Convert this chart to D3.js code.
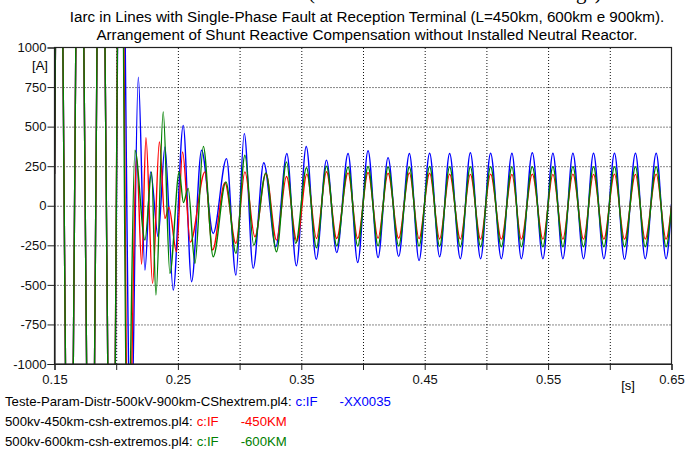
<!DOCTYPE html>
<html>
<head>
<meta charset="utf-8">
<script src="https://cdn.jsdelivr.net/npm/d3@7"></script>
<style>
  body { margin: 0; background: #fff; }
  text { font-family: "Liberation Sans", Arial, sans-serif; }
</style>
</head>
<body>
<script>
// peaks / troughs, time in s, current in A
let tBlue = [0.1500,0.1536,0.1621,0.1704,0.1794,0.1875,0.1966,0.2038,0.2119,0.2179,0.2233,0.2279,0.2340,0.2395,0.2462,0.2543,
    0.2611,0.2692,0.2786,0.2894,0.2970,0.3038,0.3110,0.3196,0.3294,0.3383,0.3460,0.3540,0.3621,0.3704,0.3787,0.3879,
    0.3957,0.4041,0.4122,0.4203,0.4289,0.4376,0.4454,0.4540,0.4621,0.4702,0.4789,0.4870,0.4953,0.5034,0.5121,0.5207,
    0.5283,0.5372,0.5458,0.5539,0.5620,0.5701,0.5787,0.5868,0.5952,0.6038,0.6119,0.6208,0.6287,0.6376,0.6456,0.6500]
let iBlue = [200,2800,-2800,2800,-2800,2800,-2800,2800,-1600,813,-406,214,-196,372,-533,508,
    -480,351,-175,298,-438,456,-396,272,-259,330,-380,374,-338,288,-296,330,
    -359,348,-328,304,-320,330,-346,332,-322,330,-335,335,-335,332,-335,332,
    -335,335,-335,332,-335,332,-335,332,-335,332,-338,332,-335,332,-335,10]

let tRed = [0.1500,0.1536,0.1621,0.1704,0.1794,0.1875,0.1966,0.2036,0.2099,0.2166,0.2206,0.2241,0.2295,0.2350,0.2395,0.2427,
    0.2489,0.2538,0.2601,0.2719,0.2781,0.2881,0.2970,0.3043,0.3124,0.3213,0.3299,0.3380,0.3464,0.3545,0.3623,0.3704,
    0.3787,0.3879,0.3957,0.4041,0.4122,0.4203,0.4289,0.4376,0.4454,0.4540,0.4621,0.4702,0.4789,0.4870,0.4953,0.5034,
    0.5121,0.5207,0.5283,0.5372,0.5458,0.5539,0.5620,0.5701,0.5787,0.5868,0.5952,0.6038,0.6119,0.6208,0.6287,0.6376,
    0.6456,0.6500]
let iRed = [200,2800,-2800,2800,-2800,2800,-2800,2800,-1800,300,-370,430,-490,403,-80,-10,
    -291,340,-230,214,-280,145,-238,214,-196,204,-217,185,-225,200,-207,215,
    -207,208,-207,210,-205,205,-205,208,-208,205,-210,200,-211,198,-211,200,
    -211,198,-211,200,-211,198,-211,200,-211,198,-211,200,-211,198,-211,200,
    -211,0]

let tGreen = [0.1500,0.1536,0.1621,0.1704,0.1794,0.1875,0.1966,0.2036,0.2091,0.2152,0.2233,0.2287,0.2322,0.2381,0.2435,0.2511,
    0.2545,0.2583,0.2638,0.2706,0.2786,0.2889,0.2970,0.3043,0.3115,0.3213,0.3299,0.3380,0.3455,0.3542,0.3623,0.3704,
    0.3787,0.3879,0.3957,0.4041,0.4122,0.4203,0.4289,0.4376,0.4454,0.4540,0.4621,0.4702,0.4789,0.4870,0.4953,0.5034,
    0.5121,0.5207,0.5283,0.5372,0.5458,0.5539,0.5620,0.5701,0.5787,0.5868,0.5952,0.6038,0.6119,0.6208,0.6287,0.6376,
    0.6456,0.6500]
let iGreen = [200,2800,-2800,2800,-2800,2800,-2800,2800,-1800,351,-217,214,-564,593,-427,214,
    20,110,-364,375,-322,151,-301,319,-249,208,-291,277,-238,240,-265,250,
    -253,245,-255,248,-253,245,-255,245,-255,248,-257,246,-259,246,-259,246,
    -259,246,-259,246,-259,246,-259,246,-259,246,-259,246,-259,246,-259,246,
    -259,0]

let xTicks = [0.15,0.2,0.25,0.3,0.35,0.4,0.45,0.5,0.55,0.6,0.65]
let xTickLabels = ['0.15','','0.25','','0.35','','0.45','','0.55','','0.65']
let yTicks = [1000,750,500,250,0,-250,-500,-750,-1000]
let yTickLabels = ['1000','750','500','250','0','-250','-500','-750','-1000']

let titles = ['Iarc in Lines with Single-Phase Fault at Reception Terminal (L=450km, 600km e 900km).',
    'Arrangement of Shunt Reactive Compensation without Installed Neutral Reactor.']
let legendFiles = ['Teste-Param-Distr-500kV-900km-CShextrem.pl4:', '500kv-450km-csh-extremos.pl4:', '500kv-600km-csh-extremos.pl4:']
let legendVars = ['c:IF', 'c:IF', 'c:IF']
let legendNames = ['-XX0035', '-450KM', '-600KM']
let colors = ['#0000ff', '#ff0000', '#008000']

function main(){
    const width = 685, height = 450
    const left = 54.5, right = 671.5, top = 47.5, bottom = 364

    let svg = d3.select('body').append('svg')
        .attr('width', width)
        .attr('height', height)
        .style('background', '#fff')

    let x = d3.scaleLinear().domain([0.15, 0.65]).range([left, right])
    let y = d3.scaleLinear().domain([-1000, 1000]).range([bottom, top])

    // heading above the titles, only its lower edge is inside the picture
    svg.append('text')
        .attr('x', 308).attr('y', -1)
        .style('font-family', '"Liberation Serif", serif')
        .attr('font-size', 21)
        .text('(Without Neutral Reactor Settings)')

    svg.selectAll('.title')
        .data(titles)
        .enter()
        .append('text')
        .attr('class', 'title')
        .attr('x', 367)
        .attr('y', (d, i) => 22 + i * 18)
        .attr('text-anchor', 'middle')
        .attr('font-size', 15.2)
        .text(d => d)

    // dotted grid
    svg.append('g')
        .attr('transform', `translate(0,${bottom})`)
        .call(d3.axisBottom(x).tickValues(xTicks.slice(1, -1)).tickSize(-(bottom - top)).tickFormat(''))
        .call(g => g.select('.domain').remove())
        .selectAll('line')
        .attr('stroke', '#111')
        .attr('stroke-dasharray', '1,2')
    svg.append('g')
        .attr('transform', `translate(${left},0)`)
        .call(d3.axisLeft(y).tickValues(yTicks.slice(1, -1)).tickSize(-(right - left)).tickFormat(''))
        .call(g => g.select('.domain').remove())
        .selectAll('line')
        .attr('stroke', '#111')
        .attr('stroke-dasharray', '1,2')

    svg.append('clipPath').attr('id', 'plot')
        .append('rect')
        .attr('x', left).attr('y', top)
        .attr('width', right - left).attr('height', bottom - top)

    let line = d3.line()
        .x(d => x(d[0]))
        .y(d => y(d[1]))
        .curve(d3.curveMonotoneX)

    let series = [d3.zip(tBlue, iBlue), d3.zip(tRed, iRed), d3.zip(tGreen, iGreen)]
    svg.append('g')
        .attr('clip-path', 'url(#plot)')
        .selectAll('path')
        .data(series)
        .enter()
        .append('path')
        .attr('d', line)
        .attr('fill', 'none')
        .attr('stroke', (d, i) => colors[i])
        .attr('stroke-width', 1.4)

    // frame
    svg.append('rect')
        .attr('x', left).attr('y', top)
        .attr('width', right - left).attr('height', bottom - top)
        .attr('fill', 'none')
        .attr('stroke', '#222')
        .attr('stroke-width', 1.2)

    let xAxis = svg.append('g')
        .attr('transform', `translate(0,${bottom})`)
        .call(d3.axisBottom(x).tickValues(xTicks).tickSize(6).tickPadding(5).tickFormat((d, i) => xTickLabels[i]))
    xAxis.select('.domain').attr('stroke', '#222').attr('stroke-width', 1.2)
    xAxis.selectAll('line').attr('stroke', '#222')
    xAxis.selectAll('text').attr('font-size', 13).attr('fill', '#111').style('font-family', '"Liberation Sans", Arial, sans-serif')

    let yAxis = svg.append('g')
        .attr('transform', `translate(${left},0)`)
        .call(d3.axisLeft(y).tickValues(yTicks).tickSize(7).tickPadding(1).tickFormat((d, i) => yTickLabels[i]))
    yAxis.select('.domain').attr('stroke', '#222').attr('stroke-width', 1.2)
    yAxis.selectAll('line').attr('stroke', '#222')
    yAxis.selectAll('text').attr('font-size', 13).attr('fill', '#111').style('font-family', '"Liberation Sans", Arial, sans-serif')

    svg.append('text')
        .attr('x', 40).attr('y', 70)
        .attr('text-anchor', 'middle')
        .attr('font-size', 13)
        .text('[A]')
    svg.append('text')
        .attr('x', 628).attr('y', 390)
        .attr('text-anchor', 'middle')
        .attr('font-size', 13)
        .text('[s]')

    // legend
    let legend = svg.selectAll('.legend')
        .data(legendFiles)
        .enter()
        .append('text')
        .attr('class', 'legend')
        .attr('y', (d, i) => 406 + i * 20)
        .attr('font-size', 13.2)
    legend.append('tspan')
        .attr('x', 5)
        .attr('fill', '#000')
        .text(d => d)
    legend.append('tspan')
        .attr('dx', 4)
        .attr('fill', (d, i) => colors[i])
        .text((d, i) => legendVars[i])
    legend.append('tspan')
        .attr('dx', 22)
        .attr('fill', (d, i) => colors[i])
        .text((d, i) => legendNames[i])
}

main()
</script>
</body>
</html>
